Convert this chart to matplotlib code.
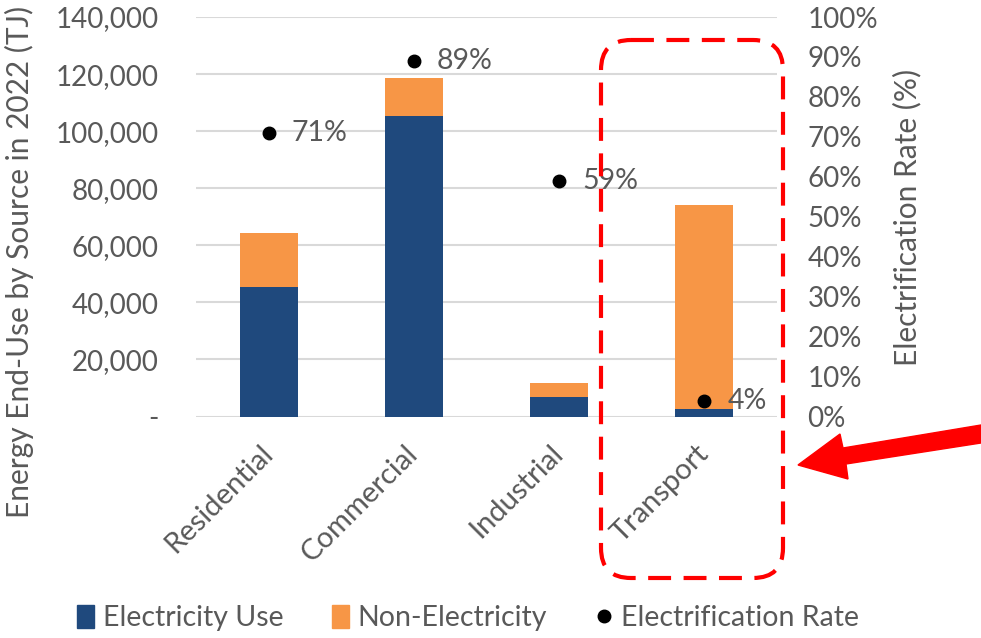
import matplotlib
matplotlib.use('Agg')
import matplotlib.pyplot as plt
import matplotlib.transforms as mtransforms
import numpy as np
from matplotlib.patches import FancyBboxPatch, Polygon, Patch
from matplotlib.lines import Line2D
from matplotlib.ticker import FuncFormatter

plt.rcParams['font.family'] = ['Lato', 'DejaVu Sans']

sectors = ['Residential', 'Commercial', 'Industrial', 'Transport']
elec_use = [45500, 105300, 6900, 2700]
non_elec = [18800, 13300, 4900, 71400]
elec_rate = [0.71, 0.89, 0.59, 0.04]
rate_labels = ['71%', '89%', '59%', '4%']

blue = '#1F497D'
orange = '#F79646'
grey = '#595959'
grid_c = '#D9D9D9'

fig = plt.figure(figsize=(9.81, 6.38), dpi=100)
ax = fig.add_axes([196 / 981, 1 - 416.5 / 638, 581 / 981, 399.5 / 638])
x = np.arange(len(sectors))
ax.bar(x, elec_use, 0.4, color=blue, zorder=2)
ax.bar(x, non_elec, 0.4, bottom=elec_use, color=orange, zorder=2)
ax.set_xlim(-0.5, 3.5)
ax.set_ylim(0, 140000)
ax.set_yticks(np.arange(0, 140001, 20000))
ax.yaxis.set_major_formatter(FuncFormatter(lambda v, p: '-' if v == 0 else f'{int(v):,}'))
ax.grid(True, axis='y', color=grid_c, linewidth=1.5, zorder=0)
ax.set_axisbelow(True)
for s in ax.spines.values():
    s.set_visible(False)
ax.tick_params(axis='both', length=0, labelsize=20, colors=grey)
ax.tick_params(axis='y', pad=27)
ax.set_xticks(x)
ax.set_xticklabels(sectors, rotation=45, ha='right', va='top', rotation_mode='anchor', fontsize=21)
ax.tick_params(axis='x', pad=17)
shift = mtransforms.ScaledTranslation(-9 / 100, 0, fig.dpi_scale_trans)
for lbl in ax.get_xticklabels():
    lbl.set_transform(lbl.get_transform() + shift)
ax.set_ylabel('Energy End-Use by Source in 2022 (TJ)', fontsize=21.5, color=grey)
ax.yaxis.set_label_coords(-162 / 581, 0.387)

ax2 = ax.twinx()
ax2.plot(x, elec_rate, 'o', color='black', markersize=9, zorder=3)
for xi, r, t in zip(x, elec_rate, rate_labels):
    ax2.annotate(t, (xi, r), xytext=(16.5, 0), textcoords='offset points',
                 va='center', ha='left', fontsize=20.5, color=grey)
ax2.set_ylim(0, 1)
ax2.set_yticks(np.arange(0, 1.01, 0.1))
ax2.yaxis.set_major_formatter(FuncFormatter(lambda v, p: f'{v:.0%}'))
for s in ax2.spines.values():
    s.set_visible(False)
ax2.tick_params(axis='y', length=0, labelsize=20, colors=grey, pad=22)
ax2.set_ylabel('Electrification Rate (%)', fontsize=21.5, color=grey)
ax2.yaxis.set_label_coords(697 / 581, 0.499)

fig.legend(handles=[Patch(color=blue, label='Electricity Use'),
                    Patch(color=orange, label='Non-Electricity'),
                    Line2D([], [], marker='o', color='black', linestyle='none', markersize=9,
                           label='Electrification Rate')],
           loc='center', bbox_to_anchor=(0.477, 1 - 618 / 638), ncol=3, frameon=False,
           fontsize=20.5, labelcolor=grey, handlelength=0.6, handleheight=0.9,
           handletextpad=0.3, columnspacing=1.7)

# annotation overlay in pixel units
ov = fig.add_axes([0, 0, 1, 1], zorder=5)
ov.set_xlim(0, 981)
ov.set_ylim(638, 0)
ov.axis('off')
ov.patch.set_alpha(0)
r = 30
box = FancyBboxPatch((601 + r, 40 + r), 182 - 2 * r, 538 - 2 * r,
                     boxstyle=f'round,pad={r}', fill=False, edgecolor='#FF0000',
                     linewidth=3, linestyle=(0, (5.5, 3)))
ov.add_patch(box)
arrow = Polygon([(981, 425), (843, 448), (840, 434), (798, 465), (848, 479),
                 (846, 464), (981, 443)], closed=True, color='#FF0000')
ov.add_patch(arrow)

fig.savefig('out.png', dpi=100)
